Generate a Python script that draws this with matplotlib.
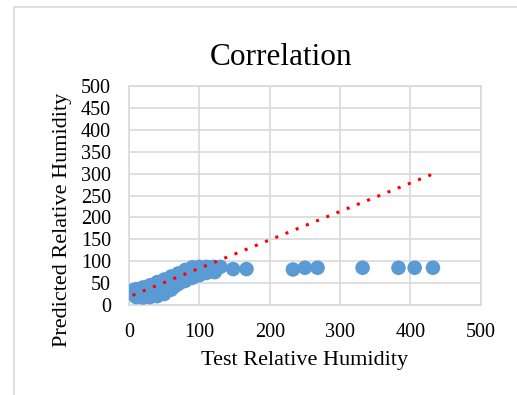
import numpy as np
import matplotlib.pyplot as plt
from matplotlib.patches import Rectangle

plt.rcParams['font.family'] = ['Liberation Serif', 'DejaVu Serif']

# test vs predicted relative humidity
test_rh = [3, 10, 20, 30, 40, 50, 60, 70, 80, 90, 100, 110, 120, 130,
           5, 10, 20, 30, 40, 50, 60, 65, 70, 80, 90, 100, 110, 122,
           15, 25, 35, 45, 55, 65, 75, 85, 95, 105,
           8, 18, 28, 38, 48, 58, 68, 78, 88, 98, 108, 116,
           14, 24, 34, 44, 54, 64, 74, 84, 94, 104, 114,
           148, 167, 233, 250, 268, 332, 383, 406, 432]
pred_rh = [32, 36, 40, 45, 52, 58, 65, 72, 80, 86, 87, 87, 87, 87,
           25, 18, 17, 18, 20, 25, 35, 43, 48, 55, 62, 68, 73, 75,
           28, 30, 33, 38, 45, 52, 62, 70, 76, 80,
           33, 36, 40, 46, 52, 58, 66, 74, 81, 84, 86, 86,
           20, 22, 24, 28, 32, 42, 52, 60, 66, 72, 76,
           82, 82, 81, 85, 85, 85, 85, 85, 85]

# trendline end points
trend_x = [5, 430]
trend_y = [22, 298]

ticks = [0, 100, 200, 300, 400, 500]
yticks = [0, 50, 100, 150, 200, 250, 300, 350, 400, 450, 500]

fig = plt.figure(figsize=(5.17, 3.95), dpi=100)
ax = fig.add_axes([0.2495, 0.228, 0.6805, 0.554])

ax.scatter(test_rh, pred_rh, s=110, color='#5B9BD5', edgecolors='none', zorder=3)
ax.plot(trend_x, trend_y, linestyle=(0, (1, 2.6)), color='#FF0000', linewidth=2.2, zorder=4)

ax.set_xlim(0, 500)
ax.set_ylim(0, 500)
ax.set_xticks(ticks)
ax.set_yticks(yticks)
ax.grid(True, color='#D9D9D9', linewidth=1.2)
ax.set_axisbelow(True)
for s in ax.spines.values():
    s.set_color('#D9D9D9')
    s.set_linewidth(1.2)
ax.tick_params(length=0, labelsize=14.5, colors='black')
ax.tick_params(axis='y', pad=13)
ax.tick_params(axis='x', pad=13)

fig.text(0.5435, 0.855, 'Correlation', fontsize=22.5, ha='center', va='center')
ax.set_xlabel('Test Relative Humidity', fontsize=16)
ax.xaxis.set_label_coords(0.5, -0.252)
ax.xaxis.label.set_va('center')
ax.set_ylabel('Predicted Relative Humidity', fontsize=16)
ax.yaxis.set_label_coords(-0.19, 0.388)
ax.yaxis.label.set_va('center')

fig.patches.append(Rectangle((0.027, -0.1), 1.2, 1.082, transform=fig.transFigure,
                             fill=False, edgecolor='#D9D9D9', linewidth=1.2))

fig.savefig('out.png', dpi=100)
